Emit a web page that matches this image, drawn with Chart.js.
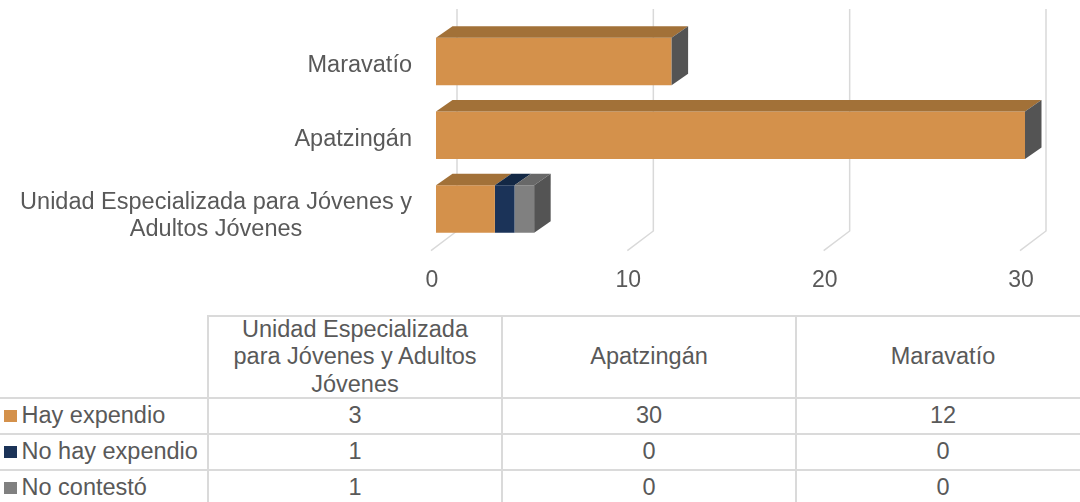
<!DOCTYPE html>
<html>
<head>
<meta charset="utf-8">
<script src="https://cdn.jsdelivr.net/npm/chart.js@4/dist/chart.umd.min.js"></script>
<style>
  html, body { margin:0; padding:0; background:#fff; width:1080px; height:502px; overflow:hidden; }
  #wrap { position:relative; width:1080px; height:502px; overflow:hidden; font-family:'Liberation Sans', Arial, sans-serif; color:#595959; }
  canvas { position:absolute; left:0; top:0; }
  .cell { position:absolute; display:flex; align-items:center; justify-content:center; text-align:center; font-size:23.5px; line-height:27.5px; color:#595959; white-space:nowrap; }
  .lcell { justify-content:flex-start; }
  .hl { position:absolute; height:2px; background:#dadada; }
  .vl { position:absolute; width:2px; background:#dadada; }
  .sw { display:inline-block; width:12.5px; height:12.5px; margin-left:4px; margin-right:5px; }
</style>
</head>
<body>
<div id="wrap">
  <canvas id="c" width="1080" height="316"></canvas>
  <div id="tbl"></div>
</div>
<script>
// ---- data ----
const categories = ['Unidad Especializada para Jóvenes y Adultos Jóvenes', 'Apatzingán', 'Maravatío'];
const axisLabels = [['Unidad Especializada para Jóvenes y', 'Adultos Jóvenes'], ['Apatzingán'], ['Maravatío']];
const tableHeaders = [['Unidad Especializada', 'para Jóvenes y Adultos', 'Jóvenes'], ['Apatzingán'], ['Maravatío']];
const seriesNames = ['Hay expendio', 'No hay expendio', 'No contestó'];
const hayExpendio = [3, 30, 12];
const noHayExpendio = [1, 0, 0];
const noContesto = [1, 0, 0];
const xTicks = [0, 10, 20, 30];

const seriesValues = [hayExpendio, noHayExpendio, noContesto];
const frontColors = ['#D4914B', '#1B3358', '#808080'];
const topColors = ['#A27138', '#132845', '#686868'];
const sideColor = '#545454';
const FONT = "'Liberation Sans', Arial, sans-serif";
const TEXT = '#595959';
const GRID = '#d9d9d9';
const DX = 16.5, DY = 11.5;

const plugin3d = {
  id: 'bars3d',
  beforeDatasetsDraw(chart) {
    const ctx = chart.ctx, xs = chart.scales.x;
    ctx.save();
    ctx.strokeStyle = GRID;
    ctx.lineWidth = 1.5;
    xTicks.forEach(v => {
      const px = xs.getPixelForValue(v);
      ctx.beginPath();
      ctx.moveTo(px + 21, 9);
      ctx.lineTo(px + 21, 231);
      ctx.lineTo(px - 5, 250.7);
      ctx.stroke();
    });
    ctx.restore();
  },
  afterDatasetsDraw(chart) {
    const ctx = chart.ctx, xs = chart.scales.x;
    const n = chart.data.datasets.length;
    ctx.save();
    for (let i = 0; i < n; i++) {
      const meta = chart.getDatasetMeta(i);
      meta.data.forEach((el, j) => {
        const p = el.getProps(['x', 'y', 'base', 'height'], true);
        const l = Math.min(p.x, p.base), r = Math.max(p.x, p.base);
        const top = p.y - p.height / 2, bot = p.y + p.height / 2;
        if (r - l > 0.5) {
          ctx.fillStyle = topColors[i];
          ctx.beginPath();
          ctx.moveTo(l, top); ctx.lineTo(l + DX, top - DY);
          ctx.lineTo(r + DX, top - DY); ctx.lineTo(r, top);
          ctx.closePath(); ctx.fill();
        }
        if (i === n - 1) {
          let sum = 0;
          for (let k = 0; k < n; k++) sum += seriesValues[k][j];
          const e = xs.getPixelForValue(sum);
          ctx.fillStyle = sideColor;
          ctx.beginPath();
          ctx.moveTo(e, top); ctx.lineTo(e + DX, top - DY);
          ctx.lineTo(e + DX, bot - DY); ctx.lineTo(e, bot);
          ctx.closePath(); ctx.fill();
        }
      });
    }
    ctx.restore();
  },
  afterDraw(chart) {
    const ctx = chart.ctx, xs = chart.scales.x, ys = chart.scales.y;
    ctx.save();
    ctx.fillStyle = TEXT;
    ctx.font = '23px ' + FONT;
    ctx.textAlign = 'center';
    ctx.textBaseline = 'alphabetic';
    xTicks.forEach(v => {
      ctx.fillText(String(v), xs.getPixelForValue(v) - 4, 287);
    });
    ctx.font = '23.5px ' + FONT;
    const rightEdge = ys.right - 24;
    axisLabels.forEach((lines, j) => {
      const cy = ys.getPixelForValue(j);
      const widest = Math.max(...lines.map(s => ctx.measureText(s).width));
      const cx = rightEdge - widest / 2;
      const lh = 26.8;
      const extra = lines.length > 1 ? 2.8 : 0;
      const first = cy + 11 + extra - (lines.length - 1) * lh / 2;
      lines.forEach((s, k) => ctx.fillText(s, cx, first + k * lh));
    });
    ctx.restore();
  }
};

new Chart(document.getElementById('c'), {
  type: 'bar',
  data: {
    labels: categories,
    datasets: seriesNames.map((name, i) => ({
      label: name,
      data: seriesValues[i],
      backgroundColor: frontColors[i],
      borderWidth: 0,
      barPercentage: 0.644,
      categoryPercentage: 1
    }))
  },
  options: {
    indexAxis: 'y',
    responsive: false,
    animation: false,
    layout: { padding: { top: 24.5, right: 55, left: 0, bottom: 0 } },
    plugins: { legend: { display: false }, tooltip: { enabled: false } },
    scales: {
      x: {
        stacked: true, min: 0, max: 30,
        ticks: { display: false, stepSize: 10 },
        grid: { display: false }, border: { display: false },
        afterFit(s) { s.height = 316 - 246; }
      },
      y: {
        stacked: true, reverse: true,
        ticks: { display: false },
        grid: { display: false }, border: { display: false },
        afterFit(s) { s.width = 436; }
      }
    }
  },
  plugins: [plugin3d]
});

// ---- data table ----
(function () {
  const tbl = document.getElementById('tbl');
  const colX = [0, 208, 502, 796, 1090];
  const rowY = [316, 398, 434, 470, 506];
  function cell(x, y, w, h, html, cls) {
    const d = document.createElement('div');
    d.className = 'cell' + (cls ? ' ' + cls : '');
    d.style.left = x + 'px'; d.style.top = y + 'px';
    d.style.width = w + 'px'; d.style.height = h + 'px';
    d.innerHTML = html;
    tbl.appendChild(d);
  }
  tableHeaders.forEach((lines, j) => {
    cell(colX[j + 1], rowY[0], colX[j + 2] - colX[j + 1], rowY[1] - rowY[0], lines.join('<br>'));
  });
  seriesNames.forEach((name, i) => {
    const y = rowY[i + 1], h = rowY[i + 2] - y;
    cell(0, y, colX[1], h, '<span class="sw" style="background:' + frontColors[i] + '"></span>' + name, 'lcell');
    seriesValues[i].forEach((v, j) => {
      cell(colX[j + 1], y, colX[j + 2] - colX[j + 1], h, String(v));
    });
  });
  function hl(x1, x2, y) {
    const d = document.createElement('div'); d.className = 'hl';
    d.style.left = x1 + 'px'; d.style.width = (x2 - x1) + 'px'; d.style.top = (y - 1) + 'px';
    tbl.appendChild(d);
  }
  function vl(x, y1, y2) {
    const d = document.createElement('div'); d.className = 'vl';
    d.style.left = (x - 1) + 'px'; d.style.top = y1 + 'px'; d.style.height = (y2 - y1) + 'px';
    tbl.appendChild(d);
  }
  hl(colX[1], colX[4], rowY[0]);
  for (let r = 1; r < rowY.length; r++) hl(0, colX[4], rowY[r]);
  for (let c = 1; c < colX.length; c++) vl(colX[c], rowY[0] - 1, rowY[4]);
})();
</script>
</body>
</html>
